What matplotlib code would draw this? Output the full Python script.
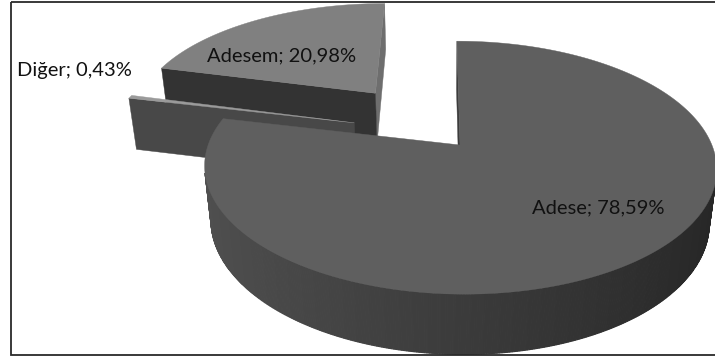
import numpy as np
import matplotlib.pyplot as plt
from matplotlib.patches import Polygon, Rectangle

# ---- data ----
names = ["Adese", "Diğer", "Adesem"]
shares = [78.59, 0.43, 20.98]

# ---- look ----
explode = [0.13, 0.36, 0.45]          # fraction of radius
top_col = ["#5f5f5f", "#9a9a9a", "#808080"]
wall_col = ["#3c3c3c", "#484848", "#333333"]
end_col = ["#3c3c3c", "#5a5a5a", "#6e6e6e"]
label_pos = [(532, 213), (17, 76), (207, 61)]   # x, baseline (pixels)

ELEV = np.radians(31)
DIST = 5.0
THICK = 0.25
SCALE = 1205
S_, C_ = np.sin(ELEV), np.cos(ELEV)
CAM = np.array([0.0, -DIST * C_, DIST * S_])


def proj(x, y, z):
    d = DIST + y * C_ - z * S_
    return x / d, (y * S_ + z * C_) / d


# slice angles, first slice at 12 o'clock, going clockwise
spans = []
a = 90.0
for v in shares:
    a0 = a - 360.0 * v / 100.0
    spans.append((a0, a))
    a = a0

offsets = []
for (a0, a1), e in zip(spans, explode):
    m = np.radians((a0 + a1) / 2)
    offsets.append(np.array([e * np.cos(m), e * np.sin(m)]))

# anchor: vertex of the big slice sits at (460, 145) px
vx, vy = proj(offsets[0][0], offsets[0][1], THICK)
CX = 460 - SCALE * vx
CY = 145 + SCALE * vy


def px(x, y, z):
    sx, sy = proj(np.asarray(x, float), np.asarray(y, float), z)
    return np.column_stack([CX + SCALE * np.atleast_1d(sx), CY - SCALE * np.atleast_1d(sy)])


def facing(normal, point):
    return np.dot(normal, point - CAM) < 0


fig = plt.figure(figsize=(7.15, 3.6), dpi=100)
ax = fig.add_axes([0, 0, 1, 1])
ax.set_xlim(0, 715)
ax.set_ylim(360, 0)
ax.axis("off")


def draw_slice(i):
    a0, a1 = spans[i]
    ox, oy = offsets[i]
    n = max(3, int(abs(a1 - a0) * 2))
    th = np.radians(np.linspace(a0, a1, n))
    xs, ys = ox + np.cos(th), oy + np.sin(th)

    # radial end faces
    for ang, sgn in ((a0, -1), (a1, 1)):
        r = np.radians(ang)
        nrm = np.array([np.cos(r + sgn * np.pi / 2), np.sin(r + sgn * np.pi / 2), 0])
        ex, ey = ox + np.cos(r), oy + np.sin(r)
        mid = np.array([(ox + ex) / 2, (oy + ey) / 2, THICK / 2])
        if facing(nrm, mid):
            pts = np.vstack([px([ox, ex], [oy, ey], THICK), px([ex, ox], [ey, oy], 0.0)])
            col = wall_col[i] if sgn == 1 else end_col[i]
            ax.add_patch(Polygon(pts, closed=True, facecolor=col, edgecolor=col, lw=0.3))

    # outer wall, shaded by angle
    for j in range(n - 1):
        tm = (th[j] + th[j + 1]) / 2
        nrm = np.array([np.cos(tm), np.sin(tm), 0])
        p = np.array([ox + np.cos(tm), oy + np.sin(tm), THICK / 2])
        if not facing(nrm, p):
            continue
        g = (59 - 21 * np.cos(tm)) / 255
        xx = [xs[j], xs[j + 1]]
        yy = [ys[j], ys[j + 1]]
        pts = np.vstack([px(xx, yy, THICK), px(xx[::-1], yy[::-1], 0.0)])
        ax.add_patch(Polygon(pts, closed=True, facecolor=(g, g, g), edgecolor=(g, g, g), lw=0.8))

    # top face
    pts = np.vstack([px([ox], [oy], THICK), px(xs, ys, THICK)])
    ax.add_patch(Polygon(pts, closed=True, facecolor=top_col[i], edgecolor=top_col[i], lw=0.3))


# back to front: Adesem, Diğer, Adese
for i in (2, 1, 0):
    draw_slice(i)

for name, v, (lx, ly) in zip(names, shares, label_pos):
    txt = f"{name}; {v:.2f}".replace(".", ",") + "%"
    ax.text(lx, ly, txt, fontsize=14.5, family=["Lato", "DejaVu Sans"],
            color="#111111", ha="left", va="baseline")

ax.add_patch(Rectangle((10.5, 1.5), 800, 353.5, fill=False, edgecolor="#2a2a2a", lw=1.3))

fig.savefig("out.png", dpi=100)
